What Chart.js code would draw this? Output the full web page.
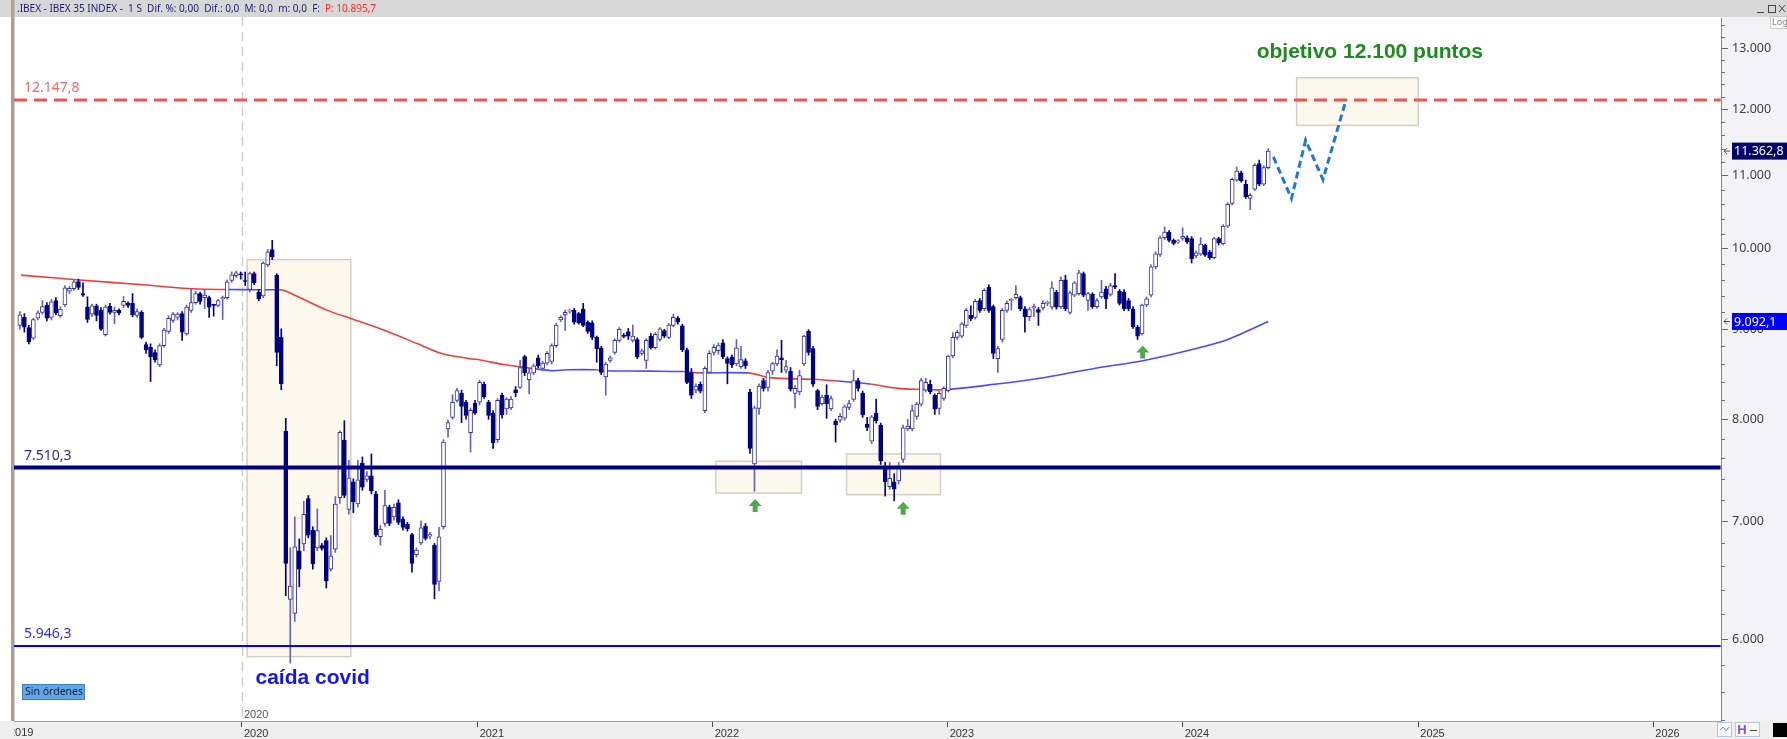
<!DOCTYPE html>
<html lang="es">
<head>
<meta charset="utf-8">
<title>IBEX 35 semanal</title>
<script src="https://cdn.jsdelivr.net/npm/chart.js@4.4.1/dist/chart.umd.min.js"></script>
<style>
html,body{margin:0;padding:0;background:#ffffff;overflow:hidden;}
#chart{display:block;}
</style>
</head>
<body>
<canvas id="chart" width="1787" height="739"></canvas>
<script>
// ================= DATA =================
const FIRST_WEEK = '2019-01-21';   // first weekly candle (Monday)
const OPEN = [
9045,9140,9020,8895,9130,9200,9290,9140,9345,9160,
9290,9460,9490,9580,9430,9265,9180,9280,9225,8935,
9275,9200,9225,9285,9315,9315,9165,9200,8820,8790,
8730,8590,8810,8975,9105,9140,9185,8945,9225,9320,
9430,9380,9380,9290,9285,9365,9380,9595,9655,9675,
9590,9480,9680,9450,9400,9790,9990,9660,8905,7875,
6320,6205,6735,6795,7210,6920,6760,6780,6825,6575,
6750,7220,7785,7110,7370,7160,7555,7395,7430,7255,
6860,6980,7130,7040,7170,7020,6975,6880,6700,6805,
6955,6865,6785,6470,6950,7900,8020,8200,8280,8180,
7860,8170,8180,8375,8180,8065,7790,8255,8110,8120,
8315,8340,8685,8425,8500,8670,8550,8610,8630,8810,
9110,9170,9215,9225,9185,9240,9085,9075,8905,8785,
8455,8640,8730,8870,8930,8970,8870,8880,8720,8640,
8920,8785,8880,8985,8905,9045,9130,9040,8760,8505,
8310,8375,8090,8505,8730,8750,8840,8660,8680,8600,
8570,8635,8290,7545,8115,8415,8340,8520,8600,8670,
8530,8520,8275,8290,8600,8975,8775,8305,8165,8255,
8110,7980,7990,8010,8125,8210,8415,8280,7950,7775,
8065,7940,7525,7325,7370,7380,7590,7900,7900,8030,
8160,8310,8375,8255,8115,8220,8305,8690,8905,8920,
9045,9165,9140,9345,9245,9510,9270,8660,8880,9225,
9345,9380,9380,9245,9150,9255,9235,9255,9310,9265,
9450,9270,9600,9200,9410,9430,9680,9345,9420,9270,
9390,9490,9420,9530,9460,9450,9345,9245,9025,8945,
9290,9410,9765,9925,10145,10220,10110,10090,10135,10145,
10135,9905,9930,10045,9955,9885,10135,10065,10300,10610,
10940,11045,10880,10680,10810,11180,10880,11120];
const HIGH = [
9210,9185,9045,9130,9220,9345,9320,9360,9380,9270,
9530,9520,9600,9610,9565,9390,9300,9300,9260,9290,
9310,9265,9245,9395,9330,9430,9240,9220,8850,8830,
8760,8830,9010,9160,9200,9200,9210,9290,9490,9460,
9450,9470,9400,9300,9360,9400,9600,9700,9710,9700,
9700,9700,9700,9480,9830,9990,10110,9680,9005,8010,
6760,7040,6840,7185,7240,6950,7115,6800,6850,6870,
7230,7880,7985,7580,7400,7580,7615,7470,7645,7280,
6960,7290,7150,7160,7200,7040,6990,6890,6760,7005,
6980,6900,6800,6945,7790,7990,8260,8330,8310,8200,
8120,8200,8420,8400,8200,8090,8220,8280,8230,8240,
8350,8640,8700,8550,8600,8700,8630,8740,8830,9070,
9160,9230,9240,9250,9200,9310,9100,9100,8920,8800,
8620,8690,8890,9020,8950,9010,9050,8900,8770,8890,
8950,8960,9020,9000,9070,9180,9150,9060,8780,8550,
8380,8400,8570,8750,8820,8840,8880,8680,8700,8880,
8800,8660,8320,8140,8380,8440,8530,8620,8760,8870,
8640,8560,8360,8530,8930,8995,8800,8320,8260,8370,
8250,8000,8060,8150,8200,8530,8440,8300,8020,8040,
8215,7960,7560,7560,7450,7560,7940,8000,8150,8180,
8440,8440,8420,8270,8300,8350,8700,8960,8990,9080,
9250,9280,9360,9370,9490,9540,9290,8800,9250,9340,
9370,9530,9400,9270,9260,9300,9260,9340,9340,9575,
9470,9640,9660,9460,9580,9720,9700,9450,9440,9370,
9595,9520,9560,9680,9480,9480,9370,9270,9045,9300,
9390,9790,9960,10170,10290,10240,10130,10120,10280,10170,
10160,9970,10145,10060,9980,10150,10150,10320,10620,10970,
11130,11070,10940,10750,11180,11230,11150,11400];
const LOW = [
9000,8966,8830,8880,9110,9180,9100,9110,9170,9140,
9270,9430,9470,9480,9395,9080,9150,9100,8985,8920,
9180,9065,9170,9260,9260,9150,9140,8890,8720,8405,
8620,8570,8790,8950,9080,9110,8870,8930,9200,9300,
9300,9245,9140,9155,9270,9115,9360,9570,9630,9610,
9530,9450,9540,9340,9380,9770,9860,8580,8315,6350,
5814,6140,6425,6735,6850,6575,6735,6740,6415,6560,
6720,7165,7220,7065,7080,7130,7290,7370,7255,6860,
6785,6955,6960,7010,6970,6920,6910,6550,6680,6790,
6830,6840,6325,6390,6930,7815,8000,8180,7965,8000,
7665,8050,8150,8220,8000,7700,7760,8010,8050,8100,
8240,8330,8470,8270,8480,8560,8530,8590,8600,8790,
9090,8985,9190,9060,9060,9030,8950,8880,8620,8480,
8255,8620,8710,8850,8900,8880,8850,8660,8700,8550,
8770,8770,8860,8900,8890,9030,9060,8740,8380,8220,
8280,8280,8070,8490,8700,8710,8660,8380,8560,8580,
8550,8550,7650,7280,8050,8300,8300,8480,8580,8505,
8500,8300,8120,8260,8580,8700,8350,8100,8150,8010,
8090,7765,7970,7990,8100,8190,8300,8020,7880,7750,
7960,7540,7235,7300,7190,7350,7560,7880,7880,8000,
8140,8290,8270,8050,8050,8200,8290,8670,8880,8900,
9020,9100,9120,9200,9220,9200,8660,8505,8850,9200,
9230,9360,9220,8965,9100,9150,9045,9230,9280,9240,
9240,9250,9220,9180,9390,9410,9390,9225,9250,9250,
9370,9245,9400,9490,9290,9220,9220,9010,8880,8930,
9270,9390,9740,9900,10120,10090,10050,10070,10110,10070,
9815,9880,9910,9900,9860,9870,10050,10050,10280,10590,
10920,10910,10680,10525,10790,10860,10860,11100];
const CLOSE = [
9170,9025,8855,9115,9195,9270,9130,9330,9195,9240,
9500,9495,9575,9505,9410,9115,9280,9165,9000,9265,
9200,9225,9195,9335,9285,9170,9210,8905,8760,8680,
8650,8810,8990,9130,9180,9180,8965,9265,9320,9430,
9335,9410,9265,9285,9345,9380,9575,9665,9690,9665,
9580,9680,9565,9365,9815,9960,9895,8730,8380,6625,
6430,6770,6575,7065,6875,6620,6915,6755,6475,6690,
7160,7865,7240,7410,7180,7390,7320,7430,7285,6875,
6930,7145,6980,7130,6990,6945,6930,6625,6740,6940,
6845,6880,6445,6860,7765,7965,8180,8305,8135,8040,
8095,8065,8395,8240,8040,7755,8200,8045,8215,8215,
8280,8560,8500,8500,8580,8580,8610,8720,8810,9050,
9140,9200,9225,9085,9075,9045,8975,8905,8770,8505,
8600,8670,8870,9000,8915,8920,8920,8680,8750,8870,
8785,8940,9005,8920,9050,9140,9085,8760,8395,8255,
8355,8300,8550,8720,8790,8810,8680,8605,8590,8785,
8650,8580,7700,8120,8355,8330,8505,8605,8690,8650,
8570,8320,8330,8470,8920,8730,8375,8135,8235,8165,
8220,7940,8030,8130,8165,8415,8330,8045,7915,8025,
7985,7575,7370,7405,7300,7520,7910,7930,8090,8160,
8415,8395,8290,8105,8275,8330,8690,8905,8965,9065,
9225,9125,9335,9225,9470,9225,8720,8775,9225,9310,
9360,9420,9245,9150,9235,9270,9200,9310,9320,9500,
9265,9595,9245,9440,9565,9690,9410,9430,9270,9345,
9450,9365,9530,9510,9310,9245,9245,9030,8920,9290,
9365,9765,9935,10145,10220,10110,10070,10100,10165,10090,
9870,9945,10060,9915,9885,10135,10075,10300,10600,10950,
11070,10930,10700,10725,11155,10880,11120,11362.8];

// moving average
const MA_DATES = ['2019-01-23','2019-04-24','2019-07-31','2019-10-17','2019-12-09','2020-01-21','2020-02-21','2020-03-04',
 '2020-03-23','2020-05-13','2020-06-19','2020-08-10','2020-09-30','2020-11-06','2020-12-20','2021-01-05','2021-02-10',
 '2021-03-08','2021-03-28','2021-04-28','2021-05-19','2021-07-05','2021-07-14','2021-09-25','2021-11-16','2021-12-12',
 '2022-02-25','2022-04-03','2022-06-04','2022-07-15','2022-09-05','2022-10-16','2022-11-16','2022-12-27','2023-03-15',
 '2023-06-01','2023-08-17','2023-11-02','2024-01-19','2024-03-11','2024-05-13'];
const MA_VALUES = [9660,9600,9540,9490,9480,9478,9478,9475,
 9410,9225,9125,8985,8830,8720,8660,8645,8595,
 8570,8550,8525,8535,8535,8525,8520,8515,8500,
 8500,8445,8430,8410,8375,8330,8320,8315,8375,
 8450,8550,8640,8770,8880,9092.1];

// projected path to the target
const PROJ_DATES = ['2024-05-21','2024-06-18','2024-07-10','2024-08-06','2024-09-11'];
const PROJ_VALUES = [11276,10679,11526,10947,12160];

// horizontal levels
const LEVELS = [12147.8, 7510.3, 5946.3];
const LEVEL_LABELS = ['12.147,8', '7.510,3', '5.946,3'];

// highlighted zones
const ZONE_FROM = ['2020-01-09','2022-01-06','2022-07-28','2024-06-26'];
const ZONE_TO   = ['2020-06-18','2022-05-19','2022-12-21','2025-01-01'];
const ZONE_HIGH = [9858, 7572, 7645, 12507];
const ZONE_LOW  = [5864, 7264, 7248, 11751];

// support arrows (tip position)
const ARROW_DATES = ['2022-03-08','2022-10-24','2023-10-31'];
const ARROW_VALUES = [7207, 7182, 8811];

// axes
const Y_TICKS = [6000,7000,8000,9000,10000,11000,12000,13000];
const YEARS = [2019,2020,2021,2022,2023,2024,2025,2026];
const LAST_PRICE = 11362.8;
const LAST_MA = 9092.1;
const HEADER_MAIN = '.IBEX - IBEX 35 INDEX -  1 S  Dif. %: 0,00  Dif.: 0,0  M: 0,0  m: 0,0  F:';
const HEADER_PRICE = 'P: 10.895,7';

// ================= HELPERS =================
const W = 1787, H = 739;
const DAY = 86400000;
const dn = s => Date.parse(s + 'T00:00:00Z') / DAY;
const d0 = dn(FIRST_WEEK);
const WEEKS = OPEN.map((_, i) => d0 + 7 * i);
const JAN2020 = dn('2020-01-01');
const XMIN = JAN2020 - 354.1, XMAX = JAN2020 + 2297.2;
const fmtThousands = v => String(Math.round(v)).replace(/\B(?=(\d{3})+(?!\d))/g, '.');
const NARROW = '"Liberation Sans Narrow", "Arial Narrow", "Liberation Sans", sans-serif';
const UI = '"Noto Sans", "Open Sans", "Liberation Sans", sans-serif';

const NAVY = '#000080';
const UP_BORDER = '#34349e';
const UP_WICK = '#6464bd';
const MA_RED = '#f23c3c', MA_BLUE = '#4a4aff';

const bodies = OPEN.map((o, i) => ({ x: WEEKS[i], y: [o, CLOSE[i]] }));
const wicks = OPEN.map((o, i) => ({ x: WEEKS[i], y: [LOW[i], HIGH[i]] }));
const ma = MA_DATES.map((d, i) => ({ x: dn(d), y: MA_VALUES[i] }));
const proj = PROJ_DATES.map((d, i) => ({ x: dn(d), y: PROJ_VALUES[i] }));
const isUp = i => CLOSE[i] >= OPEN[i];

function closeNear(x) {
  let i = Math.round((x - d0) / 7);
  i = Math.max(0, Math.min(CLOSE.length - 1, i));
  return CLOSE[i];
}

const levelStyle = [
  { color: '#f25252', width: 3, dash: [13, 7] },
  { color: NAVY, width: 4, dash: [] },
  { color: '#0000ff', width: 2, dash: [] }
];
const levelLabelColor = ['#f06a6a', '#2c2c8e', '#2b2bff'];

// ================= PLUGIN (decorations) =================
const decor = {
  id: 'decor',
  beforeDraw(chart) {
    const c = chart.ctx, a = chart.chartArea;
    c.save();
    c.fillStyle = '#ffffff'; c.fillRect(0, 0, W, H);
    c.fillStyle = '#f3f3f5'; c.fillRect(a.right, 17, W - a.right, a.bottom - 17);
    c.fillStyle = '#efefef'; c.fillRect(0, a.bottom, W, H - a.bottom);
    c.fillStyle = '#d7d7d7'; c.fillRect(0, 0, W, 17);
    c.fillStyle = '#a7a199'; c.fillRect(11, 0, 3.5, a.bottom);
    c.restore();
  },
  beforeDatasetsDraw(chart) {
    const c = chart.ctx, a = chart.chartArea, xs = chart.scales.x, ys = chart.scales.y;
    c.save();
    c.beginPath(); c.rect(a.left, a.top, a.right - a.left, a.bottom - a.top); c.clip();
    for (let k = 0; k < ZONE_FROM.length; k++) {
      const x1 = xs.getPixelForValue(dn(ZONE_FROM[k])), x2 = xs.getPixelForValue(dn(ZONE_TO[k]));
      const y1 = ys.getPixelForValue(ZONE_HIGH[k]), y2 = ys.getPixelForValue(ZONE_LOW[k]);
      c.fillStyle = '#fdf8ec';
      c.fillRect(x1, y1, x2 - x1, y2 - y1);
      c.strokeStyle = '#d3cfc7'; c.lineWidth = 1.5;
      c.strokeRect(x1, y1, x2 - x1, y2 - y1);
    }
    c.restore();
    // year separator (dashed)
    const xv = Math.round(xs.getPixelForValue(JAN2020)) + 0.5;
    c.save();
    c.strokeStyle = '#c9c9c9'; c.lineWidth = 1.3; c.setLineDash([9, 6]);
    c.beginPath(); c.moveTo(xv, 17); c.lineTo(xv, a.bottom); c.stroke();
    c.restore();
  },
  afterDatasetsDraw(chart) {
    const c = chart.ctx, a = chart.chartArea, xs = chart.scales.x, ys = chart.scales.y;
    c.save();
    // level labels
    c.font = '14px ' + UI; c.textBaseline = 'alphabetic'; c.textAlign = 'left';
    LEVELS.forEach((v, k) => {
      c.fillStyle = levelLabelColor[k];
      c.fillText(LEVEL_LABELS[k], a.left + 10, ys.getPixelForValue(v) - 8);
    });
    // arrows
    c.fillStyle = '#4ea84e';
    ARROW_DATES.forEach((d, k) => {
      const x = xs.getPixelForValue(dn(d)), y = ys.getPixelForValue(ARROW_VALUES[k]);
      c.beginPath();
      c.moveTo(x, y); c.lineTo(x + 6.5, y + 7); c.lineTo(x + 2.5, y + 7); c.lineTo(x + 2.5, y + 13);
      c.lineTo(x - 2.5, y + 13); c.lineTo(x - 2.5, y + 7); c.lineTo(x - 6.5, y + 7); c.closePath(); c.fill();
    });
    // annotations
    c.font = 'bold 21px "Liberation Sans", Arial, sans-serif';
    c.fillStyle = '#1c8a1c';
    c.fillText('objetivo 12.100 puntos', xs.getPixelForValue(dn('2024-04-25')), ys.getPixelForValue(12834));
    c.fillStyle = '#1414ee';
    c.fillText('caída covid', xs.getPixelForValue(dn('2020-01-22')), ys.getPixelForValue(5657));
    c.restore();
  },
  afterDraw(chart) {
    const c = chart.ctx, a = chart.chartArea, xs = chart.scales.x, ys = chart.scales.y;
    c.save();
    // header text
    c.font = '10px ' + UI; c.textBaseline = 'middle'; c.textAlign = 'left';
    c.fillStyle = '#1d1d70';
    c.fillText(HEADER_MAIN, 17, 9);
    const w = c.measureText(HEADER_MAIN).width;
    c.fillStyle = '#ff2a2a';
    c.fillText(HEADER_PRICE, 17 + w + 5, 9);
    // window buttons
    c.strokeStyle = '#444'; c.lineWidth = 1;
    c.beginPath(); c.moveTo(1757, 12.5); c.lineTo(1764, 12.5); c.stroke();
    c.strokeRect(1768.5, 5.5, 7, 7);
    c.beginPath(); c.moveTo(1779, 5); c.lineTo(1785, 12); c.moveTo(1785, 5); c.lineTo(1779, 12); c.stroke();
    c.fillStyle = '#fbfbfb'; c.fillRect(1770, 16, 17, 13);
    c.strokeStyle = '#c8c8c8'; c.strokeRect(1770.5, 16.5, 16, 12);
    c.fillStyle = '#8a8a8a'; c.font = '9px ' + UI; c.fillText('Log', 1772, 22);
    // minor y ticks
    c.strokeStyle = '#707070'; c.lineWidth = 1;
    for (let v = 5400; v <= 13400; v += 200) {
      if (v % 1000 === 0) continue;
      const y = Math.round(ys.getPixelForValue(v)) + 0.5;
      if (y < a.top || y > a.bottom) continue;
      c.beginPath(); c.moveTo(a.right, y); c.lineTo(a.right + 4, y); c.stroke();
    }
    // price tags
    const tag = (v, bg) => {
      const y = ys.getPixelForValue(v);
      c.fillStyle = bg; c.fillRect(a.right + 11, y - 8.5, W - a.right - 11, 17);
      c.fillStyle = '#ffffff'; c.font = '12.5px ' + UI; c.textBaseline = 'middle';
      c.fillText(fmtThousands(Math.floor(v)) + ',' + Math.round((v % 1) * 10), a.right + 13, y + 0.5);
      c.strokeStyle = '#555'; c.lineWidth = 1;
      c.beginPath(); c.moveTo(a.right + 9, y); c.lineTo(a.right + 3, y); c.moveTo(a.right + 6, y - 3);
      c.lineTo(a.right + 3, y); c.lineTo(a.right + 6, y + 3); c.stroke();
    };
    tag(LAST_PRICE, '#000066');
    tag(LAST_MA, '#0000ff');
    // x labels extras: clipped 2019 and 2020 marker
    c.font = '11px ' + NARROW; c.fillStyle = '#333'; c.textBaseline = 'top';
    c.save();
    c.beginPath(); c.rect(a.left, a.bottom, 400, 20); c.clip();
    c.fillText(String(YEARS[0]), xs.getPixelForValue(dn(YEARS[0] + '-01-01')) + 2, a.bottom + 6);
    c.restore();
    c.fillStyle = '#555'; c.textBaseline = 'alphabetic';
    c.fillText('2020', xs.getPixelForValue(JAN2020) + 2, a.bottom - 3);
    // "Sin órdenes"
    c.fillStyle = '#63a6e8'; c.fillRect(22, 684, 63, 16);
    c.strokeStyle = '#3f7fc4'; c.strokeRect(22.5, 684.5, 62, 15);
    c.fillStyle = '#13213f'; c.font = '10.5px ' + UI; c.textBaseline = 'middle';
    c.fillText('Sin órdenes', 25, 692.5);
    // bottom-right icons
    c.fillStyle = '#fafafa'; c.fillRect(1717, 722, 15, 15);
    c.strokeStyle = '#b9c6dc'; c.strokeRect(1717.5, 722.5, 14, 14);
    c.strokeStyle = '#6c8fd0'; c.beginPath();
    c.moveTo(1720, 730); c.lineTo(1723, 727); c.lineTo(1726, 731); c.lineTo(1729, 727); c.stroke();
    c.fillStyle = '#fafafa'; c.fillRect(1735, 722, 25, 15);
    c.strokeStyle = '#b9c6dc'; c.strokeRect(1735.5, 722.5, 24, 14);
    c.fillStyle = '#8a4fd6'; c.font = 'bold 13px ' + UI; c.fillText('H', 1737, 730);
    c.strokeStyle = '#444'; c.beginPath(); c.moveTo(1750, 730.5); c.lineTo(1757, 730.5); c.stroke();
    c.fillStyle = '#000'; c.fillRect(1773, 723, 14, 14);
    c.restore();
  }
};

// ================= CHART =================
Chart.defaults.font.family = UI;
new Chart(document.getElementById('chart'), {
  type: 'bar',
  data: {
    datasets: [
      {
        type: 'line', label: 'media', data: ma, order: 4,
        borderWidth: 1.6, pointRadius: 0, tension: 0.3,
        borderColor: MA_RED,
        segment: {
          borderColor: ctx => {
            const xm = (ctx.p0.parsed.x + ctx.p1.parsed.x) / 2;
            const ym = (ctx.p0.parsed.y + ctx.p1.parsed.y) / 2;
            return closeNear(xm) >= ym ? MA_BLUE : MA_RED;
          }
        }
      },
      {
        label: 'mechas', data: wicks, order: 3, grouped: false,
        barPercentage: 1, categoryPercentage: 1, maxBarThickness: 1,
        backgroundColor: ctx => isUp(ctx.dataIndex) ? UP_WICK : NAVY,
        borderWidth: 0
      },
      {
        label: 'cuerpos', data: bodies, order: 2, grouped: false,
        barPercentage: 1, categoryPercentage: 1, maxBarThickness: 4, minBarLength: 1,
        backgroundColor: ctx => isUp(ctx.dataIndex) ? '#ffffff' : NAVY,
        borderColor: ctx => isUp(ctx.dataIndex) ? UP_BORDER : NAVY,
        borderWidth: 1, borderSkipped: false
      },
      ...LEVELS.map((v, k) => ({
        type: 'line', label: LEVEL_LABELS[k], order: 1,
        data: [{ x: XMIN, y: v }, { x: XMAX - 0.5, y: v }],
        borderColor: levelStyle[k].color, borderWidth: levelStyle[k].width,
        borderDash: levelStyle[k].dash, pointRadius: 0
      })),
      {
        type: 'line', label: 'proyección', data: proj, order: 0,
        borderColor: '#1f78d6', borderWidth: 3, borderDash: [7, 4], pointRadius: 0
      }
    ]
  },
  options: {
    responsive: false, animation: false, devicePixelRatio: 1,
    layout: { padding: { left: 14, top: 18, right: 0, bottom: 0 } },
    plugins: { legend: { display: false }, tooltip: { enabled: false } },
    scales: {
      x: {
        type: 'linear', min: XMIN, max: XMAX, offset: false,
        afterFit: s => { s.height = 18; },
        afterBuildTicks: s => { s.ticks = YEARS.slice(1).map(y => ({ value: dn(y + '-01-01') })); },
        ticks: {
          autoSkip: false, maxRotation: 0, align: 'start', labelOffset: 2, padding: 0,
          color: '#333', font: { family: NARROW, size: 11 },
          callback: v => String(new Date(v * DAY).getUTCFullYear())
        },
        grid: { offset: false, drawOnChartArea: false, drawTicks: true, tickLength: 6, tickColor: '#444' },
        border: { display: true, color: '#a3a3a3', width: 1 }
      },
      y: {
        type: 'logarithmic', position: 'right', min: 5390, max: 13525,
        afterFit: s => { s.width = 66; },
        afterBuildTicks: s => { s.ticks = Y_TICKS.map(v => ({ value: v })); },
        ticks: {
          autoSkip: false, padding: 4, color: '#3d3d3d', font: { family: UI, size: 12.5 },
          callback: v => fmtThousands(v)
        },
        grid: { drawOnChartArea: false, drawTicks: true, tickLength: 7, tickColor: '#666' },
        border: { display: true, color: '#8a8a8a', width: 1 }
      }
    }
  },
  plugins: [decor]
});
</script>
</body>
</html>
